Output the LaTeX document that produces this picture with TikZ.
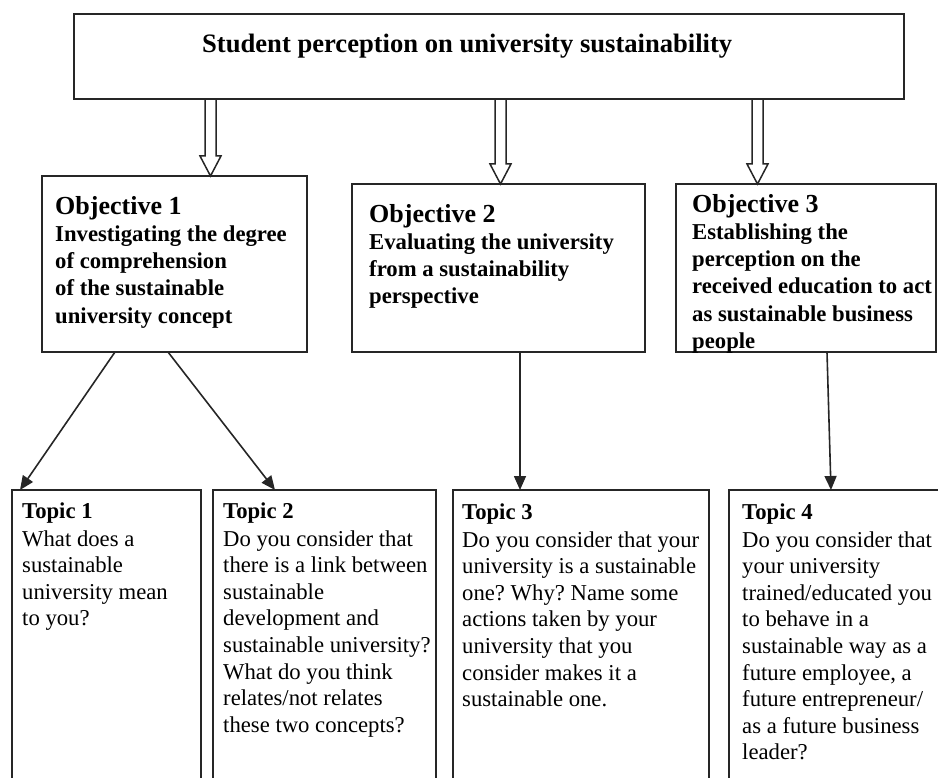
\documentclass[tikz,border=0pt]{standalone}
\usepackage{fontspec}
\setmainfont{Liberation Serif}
\usetikzlibrary{arrows.meta,calc}
\frenchspacing
\newcommand\myfatarrow[2]{%
  \draw[fatarrow] ($(#1)+(-5.5,0)$) -- ($(#1 |- #2.north)+(-5.5,-20)$)
    -- ($(#1 |- #2.north)+(-10.5,-20)$) -- (#1 |- #2.north)
    -- ($(#1 |- #2.north)+(10.5,-20)$) -- ($(#1 |- #2.north)+(5.5,-20)$)
    -- ($(#1)+(5.5,0)$);}
\begin{document}
\begin{tikzpicture}[x=1pt,y=-1pt,
  box/.style={draw=black!85, line width=1.8pt, inner sep=0pt, outer sep=0pt, anchor=north west},
  titletext/.style={anchor=base west, inner sep=0pt, font=\fontsize{26.6}{30}\selectfont\bfseries},
  objtext/.style={anchor=base west, align=left, inner sep=0pt, font=\fontsize{22.7}{27.3}\selectfont\bfseries},
  topictext/.style={anchor=base west, align=left, inner sep=0pt, font=\fontsize{22.7}{26.6}\selectfont},
  conn/.style={draw=black!85, line width=1.6pt, -{Triangle[length=14pt,width=12pt]}},
  fatarrow/.style={draw=black!85, line width=1.5pt, line join=miter}]
\useasboundingbox (0,0) rectangle (938,778);
\clip (0,0) rectangle (938,778);
% boxes
\node[box, minimum width=830pt, minimum height=85pt] (top) at (74,14) {};
\node[box, minimum width=265pt, minimum height=176pt] (obj1) at (42,176) {};
\node[box, minimum width=293pt, minimum height=168pt] (obj2) at (352,184) {};
\node[box, minimum width=260pt, minimum height=168pt] (obj3) at (676,184) {};
\node[box, minimum width=189pt, minimum height=320pt] (t1) at (12,490) {};
\node[box, minimum width=223pt, minimum height=320pt] (t2) at (213,490) {};
\node[box, minimum width=256pt, minimum height=320pt] (t3) at (453,490) {};
\node[box, minimum width=240pt, minimum height=320pt] (t4) at (729,490) {};
% texts (anchored at the baseline of their last line)
\node[titletext] (title) at ([xshift=128pt,yshift=-39pt]top.north west)
  {Student perception on university sustainability};
\node[objtext] (o1text) at ([xshift=13pt,yshift=-147.2pt]obj1.north west)
  {{\fontsize{26}{27.3}\selectfont Objective 1}\\Investigating the degree\\of comprehension\\of the sustainable\\university concept};
\node[objtext] (o2text) at ([xshift=17pt,yshift=-119.9pt]obj2.north west)
  {{\fontsize{26}{27.3}\selectfont Objective 2}\\Evaluating the university\\from a sustainability\\perspective};
\node[objtext] (o3text) at ([xshift=16pt,yshift=-164.5pt]obj3.north west)
  {{\fontsize{26}{27.3}\selectfont Objective 3}\\Establishing the\\perception on the\\received education to act\\as sustainable business\\people};
\node[topictext] (t1text) at ([xshift=10pt,yshift=-135.8pt]t1.north west)
  {\textbf{Topic 1}\\[1.4pt]What does a\\sustainable\\university mean\\to you?};
\node[topictext] (t2text) at ([xshift=10pt,yshift=-242.2pt]t2.north west)
  {\textbf{Topic 2}\\[1.4pt]Do you consider that\\there is a link between\\sustainable\\development and\\sustainable university?\\What do you think\\relates/not relates\\these two concepts?};
\node[topictext] (t3text) at ([xshift=9pt,yshift=-216.6pt]t3.north west)
  {\textbf{Topic 3}\\[1.4pt]Do you consider that your\\university is a sustainable\\one? Why? Name some\\actions taken by your\\university that you\\consider makes it a\\sustainable one.};
\node[topictext] (t4text) at ([xshift=13pt,yshift=-269.8pt]t4.north west)
  {\textbf{Topic 4}\\[1.4pt]Do you consider that\\your university\\trained/educated you\\to behave in a\\sustainable way as a\\future employee, a\\future entrepreneur/\\as a future business\\leader?};
% hollow arrows
\coordinate (h1) at ([xshift=136.5pt]top.south west);
\coordinate (h2) at ([xshift=426.5pt]top.south west);
\coordinate (h3) at ([xshift=683.5pt]top.south west);
\myfatarrow{h1}{obj1}
\myfatarrow{h2}{obj2}
\myfatarrow{h3}{obj3}
% connectors
\draw[conn] ([xshift=73pt]obj1.south west) -- ([xshift=8pt]t1.north west);
\draw[conn] ([xshift=126pt]obj1.south west) -- ([xshift=62pt]t2.north west);
\draw[conn] ([xshift=168pt]obj2.south west) -- ([xshift=67pt]t3.north west);
\draw[conn] ([xshift=151pt]obj3.south west) -- ([xshift=102pt]t4.north west);
\end{tikzpicture}
\end{document}
